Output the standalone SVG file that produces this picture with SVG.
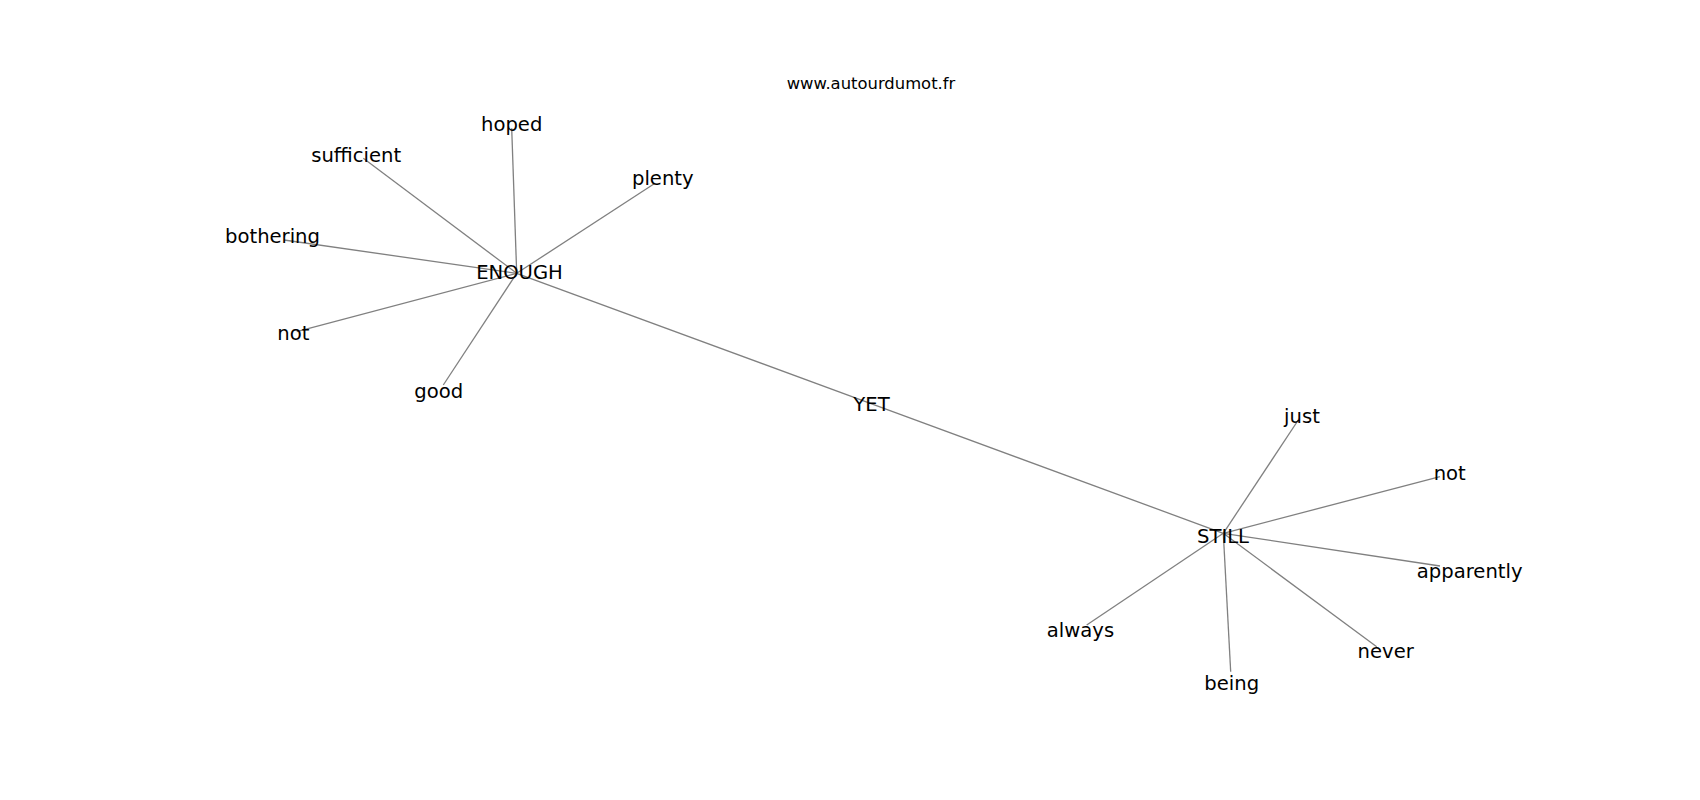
<svg xmlns="http://www.w3.org/2000/svg" width="1700" height="800" viewBox="0 0 1700 800">
<style>
.e{stroke:#808080;stroke-width:1.3;fill:none}
.t{font-family:"DejaVu Sans","Liberation Sans",sans-serif;font-size:19.6px;fill:#000;text-anchor:middle}
.title{font-family:"DejaVu Sans","Liberation Sans",sans-serif;font-size:16.4px;fill:#000;text-anchor:middle}
</style>
<rect width="1700" height="800" fill="#fff"/>
<text class="title" x="871" y="88.8">www.autourdumot.fr</text>
<g id="edges">
<line class="e" x1="516.7" y1="273.3" x2="871" y2="403.6"/>
<line class="e" x1="871" y1="403.6" x2="1223.3" y2="533.3"/>
<line class="e" x1="516.7" y1="273.3" x2="511.7" y2="128.3"/>
<line class="e" x1="516.7" y1="273.3" x2="363.3" y2="158.3"/>
<line class="e" x1="516.7" y1="273.3" x2="655" y2="183.3"/>
<line class="e" x1="516.7" y1="273.3" x2="284" y2="240"/>
<line class="e" x1="516.7" y1="273.3" x2="296.7" y2="331.7"/>
<line class="e" x1="516.7" y1="273.3" x2="443.3" y2="385"/>
<line class="e" x1="1223.3" y1="533.3" x2="1298.3" y2="420"/>
<line class="e" x1="1223.3" y1="533.3" x2="1440" y2="476.7"/>
<line class="e" x1="1223.3" y1="533.3" x2="1440" y2="566"/>
<line class="e" x1="1223.3" y1="533.3" x2="1376.7" y2="646.7"/>
<line class="e" x1="1223.3" y1="533.3" x2="1230.7" y2="671.7"/>
<line class="e" x1="1223.3" y1="533.3" x2="1086.7" y2="625"/>
</g>
<g id="node-yet"><text class="t" x="871.5" y="411">YET</text></g>
<g id="node-enough"><text class="t" x="519.5" y="279.3">ENOUGH</text></g>
<g id="node-still"><text class="t" x="1223" y="542.7">STILL</text></g>
<g id="node-hoped"><text class="t" x="511.7" y="131">hoped</text></g>
<g id="node-sufficient"><text class="t" x="356.2" y="161.7">sufficient</text></g>
<g id="node-plenty"><text class="t" x="662.8" y="185">plenty</text></g>
<g id="node-bothering"><text class="t" x="272.5" y="242.7">bothering</text></g>
<g id="node-not1"><text class="t" x="293.3" y="339.8">not</text></g>
<g id="node-good"><text class="t" x="438.7" y="397.7">good</text></g>
<g id="node-just"><text class="t" x="1302" y="423.3">just</text></g>
<g id="node-not2"><text class="t" x="1449.7" y="480.3">not</text></g>
<g id="node-apparently"><text class="t" x="1469.7" y="577.7">apparently</text></g>
<g id="node-never"><text class="t" x="1385.7" y="657.7">never</text></g>
<g id="node-being"><text class="t" x="1231.7" y="690.3">being</text></g>
<g id="node-always"><text class="t" x="1080.5" y="636.5">always</text></g>
</svg>
